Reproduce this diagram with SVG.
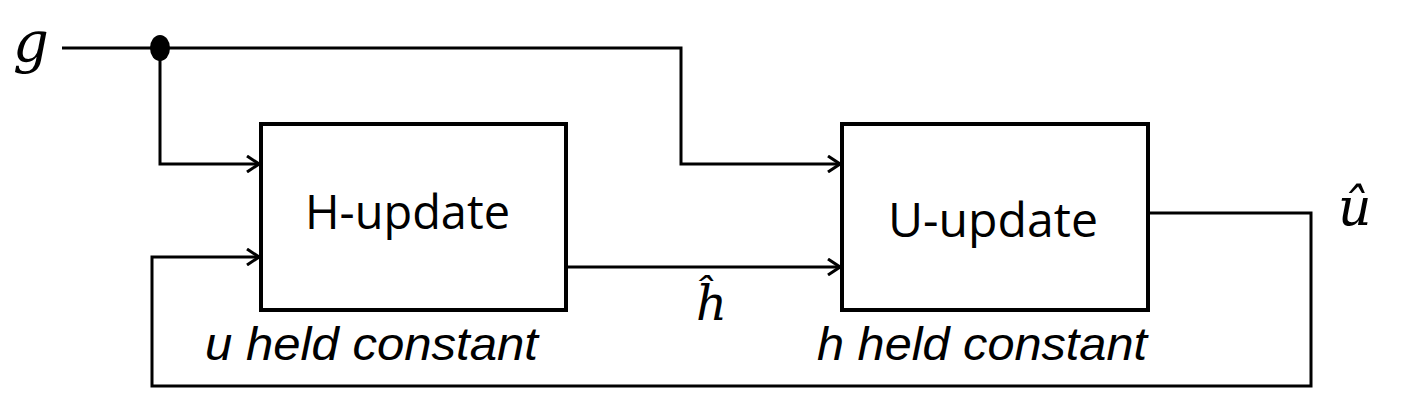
<svg xmlns="http://www.w3.org/2000/svg" width="1408" height="408" viewBox="0 0 1408 408">
<defs>
<style>
.box{fill:#fff;stroke:#000;stroke-width:4}
.wire{fill:none;stroke:#000;stroke-width:3}
.lbl{font-family:"Open Sans","Liberation Sans",sans-serif;font-size:47px;fill:#000}
.cap{font-family:"Liberation Sans",Arial,sans-serif;font-style:italic;font-size:46px;fill:#000}
.math{font-family:"DejaVu Serif","Liberation Serif",serif;font-style:italic;fill:#000}
</style>
<marker id="arr" viewBox="0 0 14 18" refX="13" refY="9" markerWidth="14" markerHeight="18" markerUnits="userSpaceOnUse" orient="auto">
<path d="M1,1 L13,9 L1,17" fill="none" stroke="#000" stroke-width="3"/>
</marker>
</defs>
<rect width="1408" height="408" fill="#fff"/>
<g id="connectors">
<path class="wire" d="M62,48 L681,48 L681,164 L840,164" marker-end="url(#arr)"/>
<path class="wire" d="M160,48 L160,164 L259,164" marker-end="url(#arr)"/>
<path class="wire" d="M566,267 L840,267" marker-end="url(#arr)"/>
<path class="wire" d="M1148,213 L1311,213 L1311,386 L152,386 L152,257 L259,257" marker-end="url(#arr)"/>
<ellipse cx="160" cy="48" rx="10" ry="13" fill="#000"/>
</g>
<g id="h-update">
<rect class="box" x="261" y="124" width="305" height="186"/>
<text class="lbl" x="305" y="229" textLength="205" lengthAdjust="spacingAndGlyphs">H-update</text>
<text class="cap" x="205" y="360" textLength="333" lengthAdjust="spacingAndGlyphs">u held constant</text>
</g>
<g id="u-update">
<rect class="box" x="842" y="124" width="306" height="186"/>
<text class="lbl" x="888" y="237" textLength="210" lengthAdjust="spacingAndGlyphs">U-update</text>
<text class="cap" x="817" y="360" textLength="330" lengthAdjust="spacingAndGlyphs">h held constant</text>
</g>
<g id="labels">
<text class="math" x="13" y="62" font-size="56">g</text>
<text class="math" x="696" y="320" font-size="48">ĥ</text>
<text class="math" x="1338" y="225" font-size="52">û</text>
</g>
</svg>
